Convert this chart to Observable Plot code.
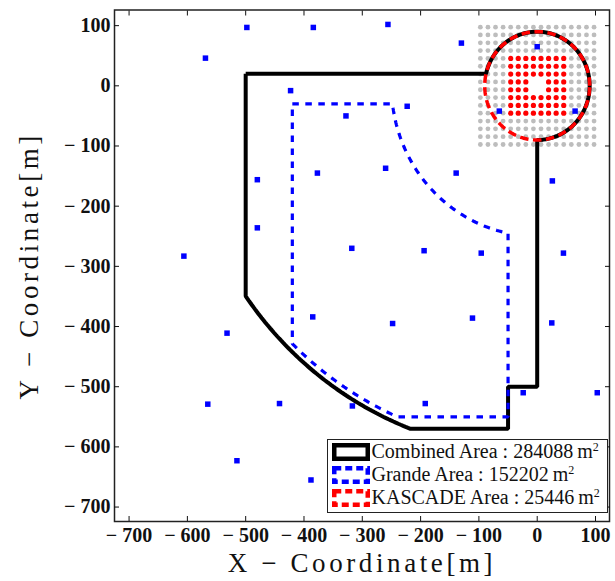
<!DOCTYPE html>
<html>
<head>
<meta charset="utf-8">
<script src="https://cdn.jsdelivr.net/npm/d3@7"></script>
<script src="https://cdn.jsdelivr.net/npm/@observablehq/plot@0.6"></script>
<style>
  body { margin: 0; background: #fff; }
  #chart { position: relative; width: 615px; height: 581px; }
  #chart svg { display: block; }
  g[aria-label="x-axis tick label"], g[aria-label="y-axis tick label"] { font-weight: bold; }
  g[aria-label="x-axis label"] text, g[aria-label="y-axis label"] text {
    font-size: 27px; letter-spacing: 3.6px; font-weight: normal;
  }
  #legend {
    position: absolute; left: 327px; top: 439px; width: 281px; height: 74px;
    box-sizing: border-box; border: 1.5px solid #222; background: #fff;
    font-family: "Liberation Serif", serif; font-size: 20px; color: #111;
  }
  #legend .row { height: 23px; display: flex; align-items: center; white-space: nowrap; }
  #legend svg { margin-left: 3.5px; margin-right: 2px; flex: none; }
  #legend sup { font-size: 12px; vertical-align: 7px; line-height: 0; }
</style>
</head>
<body>
<div id="chart"></div>
<script>
// Grande detector stations [x, y] in metres
const grandeStations = [
  [-498, 97], [-384, 97], [-256, 102], [-130, 71], [0, 65],
  [-569, 46],
  [-423, -8], [-328, -50], [-223, -34], [-65, -42], [65, -42],
  [-480, -156], [-377, -145], [-260, -137], [-139, -145], [26, -158],
  [-480, -236], [-606, -283], [-318, -270], [-194, -274], [-96, -278], [45, -278],
  [-532, -411], [-385, -384], [-248, -395], [-111, -386], [25, -394],
  [-565, -529], [-442, -528], [-317, -532], [-192, -528], [-24, -510], [103, -510],
  [-515, -623], [-388, -655]
];

// KASCADE array: 16 x 16 grid positions (13 m spacing)
const kascadeGrid = [-97.5, -84.5, -71.5, -58.5, -45.5, -32.5, -19.5, -6.5,
                     6.5, 19.5, 32.5, 45.5, 58.5, 71.5, 84.5, 97.5];
// inner grid positions (red detectors)
const kascadeInner = [-45.5, -32.5, -19.5, -6.5, 6.5, 19.5, 32.5, 45.5];
// empty central positions
const kascadeCentre = [[-6.5, 6.5], [6.5, 6.5], [-6.5, -6.5], [6.5, -6.5]];

// outline radii (m)
const kascadeRadius = 90;     // KASCADE area 25446 m²
const grandeInnerRadius = 250;
const grandeOuterRadius = 600;
const combinedOuterRadius = 610;

// straight edges of the outlines (m)
const cTop = 20, cLeft = -500, cRight = 0, cStepY = -500, cStepX = -50, cBottom = -570;
const gTop = -30, gLeft = -420, gRight = -50, gBottom = -550;

// legend entries
const areaNames = ["Combined Area", "Grande Area", "KASCADE Area"];
const areaValues = [284088, 152202, 25446];
const areaColors = ["#000000", "#0000ff", "#ff0000"];

const ticks = [-700, -600, -500, -400, -300, -200, -100, 0, 100];
const xDomain = [-725, 124];
const yDomain = [-724, 126];

// ---- geometry helpers ----
function arc(r, from, to, clockwise, n = 80) {
  const a0 = Math.atan2(from[1], from[0]);
  let a1 = Math.atan2(to[1], to[0]);
  if (clockwise && a1 > a0) a1 -= 2 * Math.PI;
  if (!clockwise && a1 <= a0) a1 += 2 * Math.PI;
  return d3.range(n + 1).map(i => {
    const a = a0 + (a1 - a0) * i / n;
    return {x: r * Math.cos(a), y: r * Math.sin(a)};
  });
}
const pt = (x, y) => ({x, y});
const circleX = (r, y) => -Math.sqrt(r * r - y * y); // left-hand crossing
const circleY = (r, x) => -Math.sqrt(r * r - x * x); // lower crossing

// Combined area outline
const combinedOutline = [
  pt(cLeft, cTop),
  ...arc(kascadeRadius, [circleX(kascadeRadius, cTop), cTop], [cRight, -kascadeRadius], true),
  pt(cRight, cStepY), pt(cStepX, cStepY), pt(cStepX, cBottom),
  ...arc(combinedOuterRadius, [circleX(combinedOuterRadius, cBottom), cBottom],
         [cLeft, circleY(combinedOuterRadius, cLeft)], true),
  pt(cLeft, cTop)
];

// Grande area outline
const grandeOutline = [
  pt(gLeft, gTop),
  ...arc(grandeInnerRadius, [circleX(grandeInnerRadius, gTop), gTop],
         [gRight, circleY(grandeInnerRadius, gRight)], false),
  pt(gRight, gBottom),
  ...arc(grandeOuterRadius, [circleX(grandeOuterRadius, gBottom), gBottom],
         [gLeft, circleY(grandeOuterRadius, gLeft)], true),
  pt(gLeft, gTop)
];

// KASCADE boundary circle
const kascadeCircle = arc(kascadeRadius, [kascadeRadius, 0], [kascadeRadius, 0], false, 160);

// KASCADE detectors
const isInner = v => kascadeInner.includes(v);
const isCentre = (x, y) => kascadeCentre.some(([cx, cy]) => cx === x && cy === y);
const grayDets = [], redDets = [];
for (const gx of kascadeGrid) for (const gy of kascadeGrid) {
  if (isInner(gx) && isInner(gy)) {
    if (!isCentre(gx, gy)) redDets.push({x: gx, y: gy});
  } else grayDets.push({x: gx, y: gy});
}

const stations = grandeStations.map(([x, y]) => ({x, y}));
const fmt = d => d < 0 ? "\u2212\u2005" + (-d) : String(d);

const plot = Plot.plot({
  width: 615, height: 581,
  marginLeft: 114, marginRight: 6, marginTop: 9.5, marginBottom: 60,
  x: {domain: xDomain},
  y: {domain: yDomain},
  style: {fontFamily: "'Liberation Serif', serif", fontSize: "20px", color: "#111", background: "#fff"},
  marks: [
    Plot.dot(grayDets, {x: "x", y: "y", r: 2.4, fill: "#bdbdbd"}),
    Plot.dot(redDets, {x: "x", y: "y", r: 2.6, fill: "#ff0000"}),
    Plot.line(combinedOutline, {x: "x", y: "y", stroke: "#000", strokeWidth: 4,
      strokeLinejoin: "miter", strokeLinecap: "butt"}),
    Plot.line(grandeOutline, {x: "x", y: "y", stroke: "#0000ff", strokeWidth: 3.2,
      strokeDasharray: "6.5,6.5", strokeLinejoin: "miter", strokeLinecap: "butt"}),
    Plot.line(kascadeCircle, {x: "x", y: "y", stroke: "#ff0000", strokeWidth: 3.5,
      strokeDasharray: "8.5,4.5", strokeLinecap: "butt"}),
    Plot.dot(stations, {x: "x", y: "y", symbol: "square", r: 3.1, fill: "#0000ff"}),
    Plot.frame({stroke: "#222", strokeWidth: 1.5}),
    Plot.axisX(ticks, {anchor: "bottom", tickSize: -5, tickPadding: 11, tickFormat: fmt,
      label: "X − Coordinate[m]", labelAnchor: "center", labelOffset: 50, labelArrow: false}),
    Plot.axisX(ticks, {anchor: "top", tickSize: -5, tickFormat: () => "", label: null}),
    Plot.axisY(ticks, {anchor: "left", tickSize: -5, tickPadding: 9, tickFormat: fmt,
      label: "Y − Coordinate[m]", labelAnchor: "center", labelOffset: 96, labelArrow: false}),
    Plot.axisY(ticks, {anchor: "right", tickSize: -5, tickFormat: () => "", label: null})
  ]
});

const chart = document.getElementById("chart");
chart.appendChild(plot);

// legend
const legend = document.createElement("div");
legend.id = "legend";
areaNames.forEach((name, i) => {
  const row = document.createElement("div");
  row.className = "row";
  const dash = i === 0 ? "" : ` stroke-dasharray="7,4"`;
  row.innerHTML =
    `<svg width="38" height="18"><rect x="2.25" y="2.25" width="33.5" height="13.5" fill="none"
       stroke="${areaColors[i]}" stroke-width="4.5"${dash}/></svg>` +
    `<span>${name} : ${areaValues[i]}\u2009m<sup>2</sup></span>`;
  legend.appendChild(row);
});
chart.appendChild(legend);
</script>
</body>
</html>
